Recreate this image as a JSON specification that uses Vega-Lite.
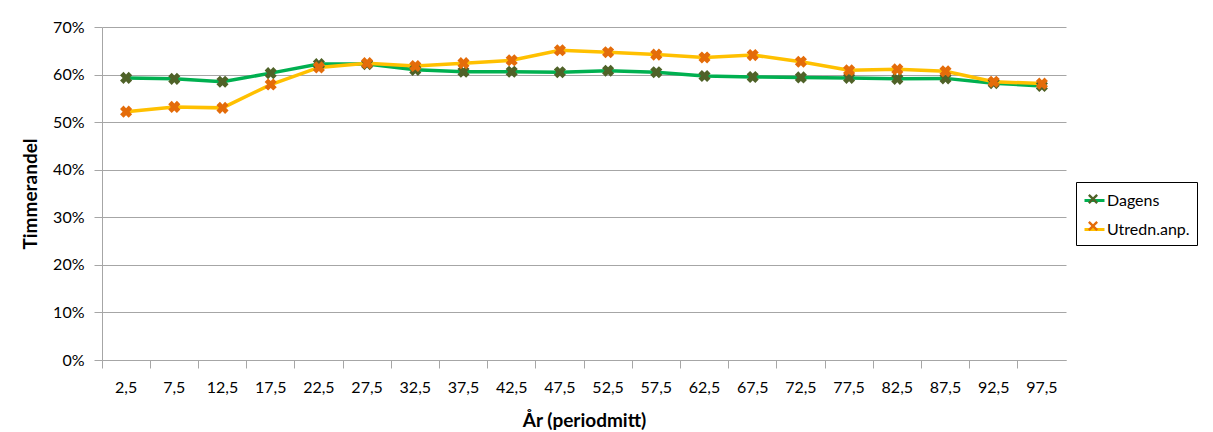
{
  "$schema": "https://vega.github.io/schema/vega-lite/v6.json",
  "autosize": "none",
  "width": 964,
  "height": 333,
  "padding": {"left": 102, "top": 27, "right": 147, "bottom": 72},
  "background": "white",
  "config": {
    "font": "Lato",
    "view": {"stroke": null},
    "axis": {"labelFont": "Lato", "titleFont": "Lato", "labelColor": "#000", "titleColor": "#000", "domainColor": "#a6a6a6", "tickColor": "#a6a6a6", "gridColor": "#a6a6a6"}
  },
  "data": {
    "values": [
      {"ar": "2,5", "serie": "Dagens", "andel": 0.593},
      {"ar": "7,5", "serie": "Dagens", "andel": 0.591},
      {"ar": "12,5", "serie": "Dagens", "andel": 0.585},
      {"ar": "17,5", "serie": "Dagens", "andel": 0.603},
      {"ar": "22,5", "serie": "Dagens", "andel": 0.622},
      {"ar": "27,5", "serie": "Dagens", "andel": 0.622},
      {"ar": "32,5", "serie": "Dagens", "andel": 0.610},
      {"ar": "37,5", "serie": "Dagens", "andel": 0.606},
      {"ar": "42,5", "serie": "Dagens", "andel": 0.606},
      {"ar": "47,5", "serie": "Dagens", "andel": 0.605},
      {"ar": "52,5", "serie": "Dagens", "andel": 0.608},
      {"ar": "57,5", "serie": "Dagens", "andel": 0.605},
      {"ar": "62,5", "serie": "Dagens", "andel": 0.597},
      {"ar": "67,5", "serie": "Dagens", "andel": 0.595},
      {"ar": "72,5", "serie": "Dagens", "andel": 0.594},
      {"ar": "77,5", "serie": "Dagens", "andel": 0.593},
      {"ar": "82,5", "serie": "Dagens", "andel": 0.591},
      {"ar": "87,5", "serie": "Dagens", "andel": 0.592},
      {"ar": "92,5", "serie": "Dagens", "andel": 0.582},
      {"ar": "97,5", "serie": "Dagens", "andel": 0.576},
      {"ar": "2,5", "serie": "Utredn.anp.", "andel": 0.522},
      {"ar": "7,5", "serie": "Utredn.anp.", "andel": 0.532},
      {"ar": "12,5", "serie": "Utredn.anp.", "andel": 0.530},
      {"ar": "17,5", "serie": "Utredn.anp.", "andel": 0.579},
      {"ar": "22,5", "serie": "Utredn.anp.", "andel": 0.615},
      {"ar": "27,5", "serie": "Utredn.anp.", "andel": 0.624},
      {"ar": "32,5", "serie": "Utredn.anp.", "andel": 0.618},
      {"ar": "37,5", "serie": "Utredn.anp.", "andel": 0.624},
      {"ar": "42,5", "serie": "Utredn.anp.", "andel": 0.630},
      {"ar": "47,5", "serie": "Utredn.anp.", "andel": 0.651},
      {"ar": "52,5", "serie": "Utredn.anp.", "andel": 0.647},
      {"ar": "57,5", "serie": "Utredn.anp.", "andel": 0.642},
      {"ar": "62,5", "serie": "Utredn.anp.", "andel": 0.636},
      {"ar": "67,5", "serie": "Utredn.anp.", "andel": 0.641},
      {"ar": "72,5", "serie": "Utredn.anp.", "andel": 0.627},
      {"ar": "77,5", "serie": "Utredn.anp.", "andel": 0.609},
      {"ar": "82,5", "serie": "Utredn.anp.", "andel": 0.611},
      {"ar": "87,5", "serie": "Utredn.anp.", "andel": 0.607},
      {"ar": "92,5", "serie": "Utredn.anp.", "andel": 0.585},
      {"ar": "97,5", "serie": "Utredn.anp.", "andel": 0.581}
    ]
  },
  "encoding": {
    "x": {
      "field": "ar", "type": "ordinal", "sort": null,
      "scale": {"type": "band", "paddingInner": 0, "paddingOuter": 0},
      "axis": {"title": "År (periodmitt)", "labelAngle": 0, "labelFontSize": 16, "titleFontSize": 19, "titleFontWeight": "bold", "tickSize": 8, "bandPosition": 0, "labelPadding": 11, "titlePadding": 16, "grid": false}
    },
    "y": {
      "field": "andel", "type": "quantitative",
      "scale": {"domain": [0, 0.7]},
      "axis": {"title": "Timmerandel", "format": ".0%", "values": [0, 0.1, 0.2, 0.3, 0.4, 0.5, 0.6, 0.7], "labelFontSize": 16, "titleFontSize": 19, "titleFontWeight": "bold", "tickSize": 8, "labelPadding": 10, "titlePadding": 12, "grid": true}
    }
  },
  "resolve": {"legend": {"color": "independent", "fill": "independent"}, "scale": {"color": "independent", "fill": "independent"}},
  "layer": [
    {
      "mark": {"type": "line", "strokeWidth": 3.5},
      "encoding": {
        "color": {
          "field": "serie", "type": "nominal",
          "scale": {"domain": ["Dagens", "Utredn.anp."], "range": ["#00b050", "#ffc000"]},
          "legend": {"title": null, "orient": "none", "legendX": 974, "legendY": 155, "symbolType": "stroke", "symbolStrokeWidth": 3, "symbolSize": 400, "labelFontSize": 16, "labelFont": "Lato", "strokeColor": "#000", "padding": 7, "rowPadding": 9, "labelOffset": 1, "symbolOffset": 0}
        }
      }
    },
    {
      "mark": {"type": "point", "shape": "cross", "angle": 45, "filled": true, "size": 150, "opacity": 1},
      "encoding": {
        "fill": {
          "field": "serie", "type": "nominal",
          "scale": {"domain": ["Dagens", "Utredn.anp."], "range": ["#4f6228", "#e46c0a"]},
          "legend": {"title": null, "orient": "none", "legendX": 974, "legendY": 155, "symbolType": "M-0.5,-0.33L-0.33,-0.5L0,-0.17L0.33,-0.5L0.5,-0.33L0.17,0L0.5,0.33L0.33,0.5L0,0.17L-0.33,0.5L-0.5,0.33L-0.17,0Z", "symbolStrokeWidth": 0, "symbolSize": 400, "symbolOpacity": 1, "labelFontSize": 16, "labelFont": "Lato", "labelExpr": "''", "padding": 7, "rowPadding": 9, "labelOffset": 1, "symbolOffset": 0}
        }
      }
    }
  ]
}
